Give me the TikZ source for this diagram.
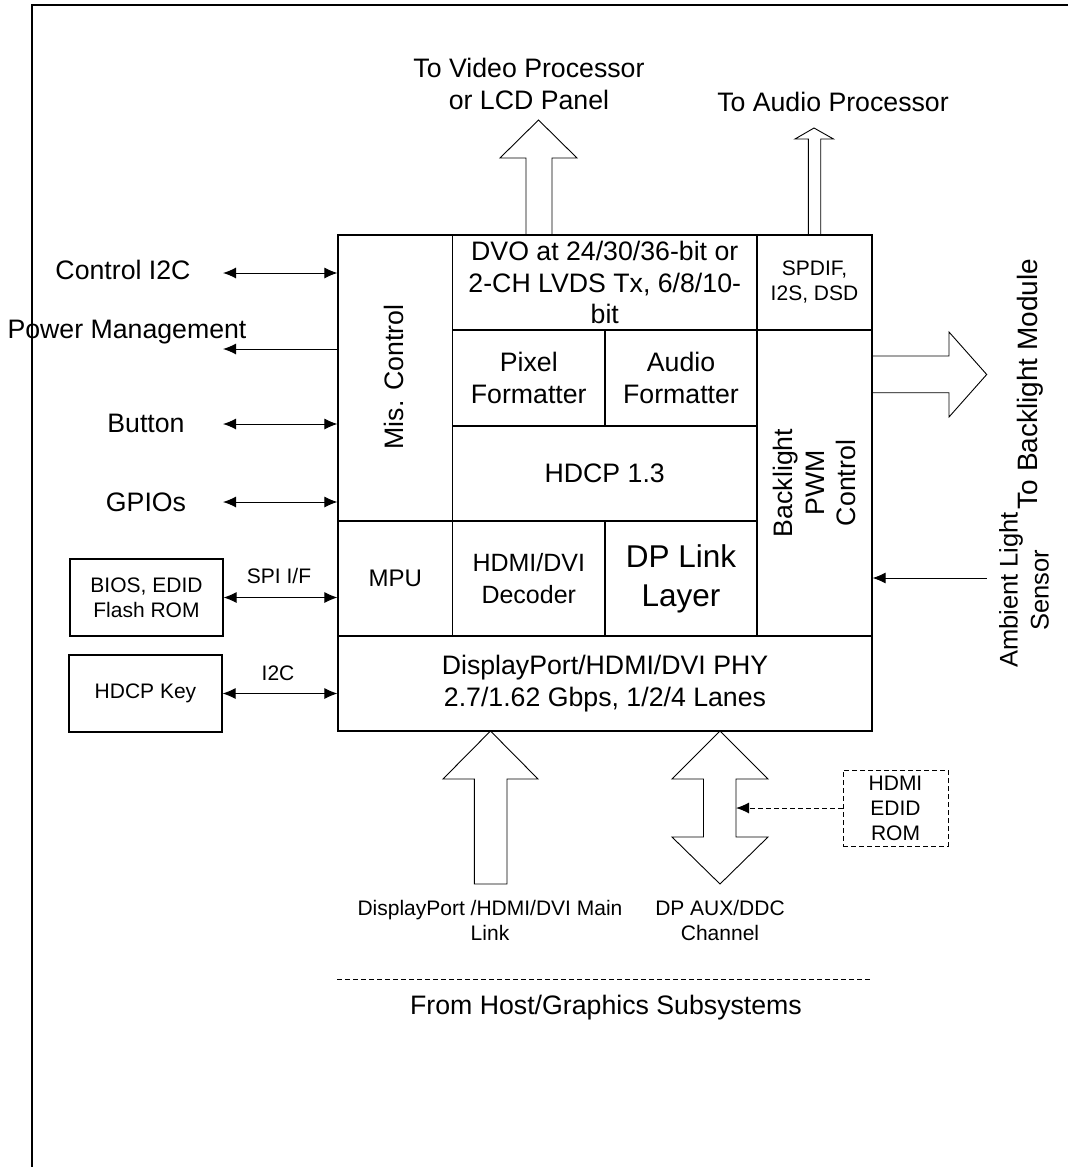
\documentclass[tikz,border=0pt]{standalone}
\usepackage{fontspec}
\setmainfont{Liberation Sans}
\usetikzlibrary{arrows.meta}
\newcommand\FBig{\fontsize{26.7}{31.5}\selectfont}
\newcommand\FSmall{\fontsize{21}{25}\selectfont}
\newcommand\FHuge{\fontsize{31.5}{39}\selectfont}
\begin{document}
\begin{tikzpicture}[x=1pt,y=-1pt,
  line width=1.1pt,
  blk/.style={draw, line width=1.1pt, inner sep=0pt, align=center, font=\FBig},
  sbox/.style={draw, line width=1.1pt, inner sep=0pt, align=center, font=\FSmall},
  dbox/.style={draw, line width=0.9pt, dash pattern=on 5pt off 3pt, inner sep=0pt, align=center, font=\FSmall},
  lbl/.style={inner sep=0pt, align=center, font=\FBig},
  slbl/.style={inner sep=0pt, align=center, font=\FSmall},
  dblarrow/.style={line width=1pt, {Latex[length=13pt,width=11pt]}-{Latex[length=13pt,width=11pt]}},
  sglarrow/.style={line width=1pt, -{Latex[length=13pt,width=11pt]}},
  dsharrow/.style={line width=1pt, dash pattern=on 5pt off 3pt, -{Latex[length=13pt,width=11pt]}},
  hollow/.style={line width=0.9pt, line join=miter}
]
\useasboundingbox (0,0) rectangle (1068,1167);
% page frame
\draw[line width=1.1pt] (1068,5) -- (32,5) -- (32,1167);

% ---- main chip blocks ----
\node[blk, minimum width=114.5pt, minimum height=286pt] (misc) at (395.25,378) {};
\node[lbl, rotate=90] (misct) at (394,377) {Mis. Control};
\node[blk, minimum width=304.5pt, minimum height=95pt] (dvo) at (604.75,282.5) {DVO at 24/30/36-bit or\\2-CH LVDS Tx, 6/8/10-\\bit};
\node[sbox, minimum width=115pt, minimum height=95pt] (spdif) at (814.5,282.5) {SPDIF,\\I2S, DSD};
\node[blk, minimum width=152.5pt, minimum height=96pt] (pixf) at (528.75,378) {Pixel\\Formatter};
\node[blk, minimum width=152pt, minimum height=96pt] (audf) at (681,378) {Audio\\Formatter};
\node[blk, minimum width=304.5pt, minimum height=95pt] (hdcp) at (604.75,473.5) {HDCP 1.3};
\node[blk, minimum width=115pt, minimum height=306pt] (blpwm) at (814.5,483) {};
\node[lbl, rotate=90] (blpwmt) at (blpwm.center) {Backlight\\PWM\\Control};
\node[blk, minimum width=114.5pt, minimum height=115pt, font=\fontsize{24}{28}\selectfont] (mpu) at (395.25,578.5) {MPU};
\node[blk, minimum width=152.5pt, minimum height=115pt, font=\fontsize{25}{31.5}\selectfont] (hdmidec) at (528.75,578.5) {HDMI/DVI\\Decoder};
\node[blk, minimum width=152pt, minimum height=115pt, font=\FHuge] (dplink) at (681,578.5) {DP Link\\Layer};
\node[blk, minimum width=534pt, minimum height=95pt] (phy) at (605,683.5) {DisplayPort/HDMI/DVI PHY\\2.7/1.62 Gbps, 1/2/4 Lanes};

% ---- left side signals ----
\node[lbl] (ctrl) at (123,270) {Control I2C};
\node[lbl] (pwr) at (127,332) {Power Management};
\node[lbl] (btn) at (146,423) {Button};
\node[lbl] (gpio) at (146,502) {GPIOs};
\coordinate (ctrlE) at (223,273);
\coordinate (pwrE) at (223,349);
\coordinate (btnE) at (223,424);
\coordinate (gpioE) at (223,502);
\draw[dblarrow] (ctrlE) -- (ctrlE -| misc.west);
\draw[sglarrow] (pwrE -| misc.west) -- (pwrE);
\draw[dblarrow] (btnE) -- (btnE -| misc.west);
\draw[dblarrow] (gpioE) -- (gpioE -| misc.west);

\node[sbox, minimum width=153pt, minimum height=77pt] (bios) at (146.5,597.5) {BIOS, EDID\\Flash ROM};
\node[sbox, minimum width=153pt, minimum height=77pt] (hkey) at (145.5,693.5) {HDCP Key};
\draw[dblarrow] (bios.east) -- (bios.east -| mpu.west);
\draw[dblarrow] (hkey.east) -- (hkey.east -| phy.west);
\node[slbl] (spi) at (279,576) {SPI I/F};
\node[slbl] (i2c) at (278,673) {I2C};

% ---- top outputs ----
\node[lbl] (vidt) at (529,84) {To Video Processor\\or LCD Panel};
\node[lbl] (audt) at (833,102) {To Audio Processor};
\draw[hollow] (526,235) -- (526,158) -- (500,158) -- (538.5,120) -- (577,158) -- (552,158) -- (552,235);
\draw[hollow] (808.3,235) -- (808.3,139) -- (795,139) -- (814,128) -- (833.5,139) -- (820.7,139) -- (820.7,235);

% ---- right side ----
\draw[hollow] (872,356) -- (949,356) -- (949,332) -- (986.7,374.5) -- (949,417) -- (949,392.7) -- (872,392.7);
\node[inner sep=0pt, font=\fontsize{28}{32}\selectfont, rotate=90] (blt) at (1030,384) {To Backlight Module};
\node[inner sep=0pt, align=center, font=\fontsize{25.5}{31}\selectfont, rotate=90] (ambt) at (1024,590) {Ambient Light\\Sensor};
\coordinate (ambE) at (986.7,578);
\draw[sglarrow] (ambE) -- (ambE -| blpwm.east);

% ---- bottom inputs ----
\draw[hollow] (490.5,731) -- (538,779) -- (507,779) -- (507,884) -- (474.4,884) -- (474.4,779) -- (443,779) -- cycle;
\draw[hollow] (720,731) -- (768,779) -- (736,779) -- (736,837) -- (768,837) -- (720,884) -- (672,837) -- (703.5,837) -- (703.5,779) -- (672,779) -- cycle;
\node[dbox, minimum width=105pt, minimum height=76pt] (edid) at (895.5,808) {HDMI\\EDID\\ROM};
\coordinate (auxR) at (736,808);
\draw[dsharrow] (edid.west) -- (auxR);
\node[slbl] (mlt) at (490,920.5) {DisplayPort /HDMI/DVI Main\\Link};
\node[slbl] (auxt) at (720,920.5) {DP AUX/DDC\\Channel};
\coordinate (dl1) at (337,979);
\coordinate (dl2) at (871,979);
\draw[line width=0.8pt, dash pattern=on 5pt off 3pt] (dl1) -- (dl2);
\node[lbl] (host) at (606,1008) {From Host/Graphics Subsystems};
\end{tikzpicture}
\end{document}
